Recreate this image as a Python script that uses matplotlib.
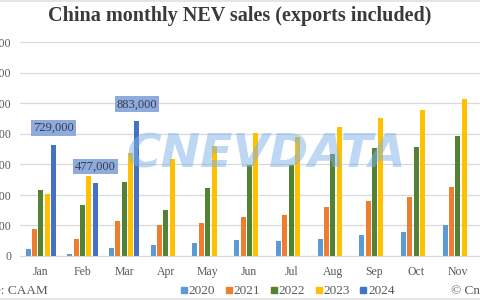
import numpy as np
import matplotlib.pyplot as plt
from matplotlib.lines import Line2D

months = ["Jan", "Feb", "Mar", "Apr", "May", "Jun", "Jul", "Aug", "Sep", "Oct", "Nov"]
years = ["2020", "2021", "2022", "2023", "2024"]

sales_2020 = [45000, 13000, 53000, 72000, 82000, 104000, 98000, 109000, 138000, 160000, 200000]
sales_2021 = [179000, 110000, 226000, 206000, 217000, 256000, 271000, 321000, 357000, 383000, 450000]
sales_2022 = [431000, 334000, 484000, 299000, 447000, 596000, 593000, 666000, 708000, 714000, 786000]
sales_2023 = [408000, 525000, 674000, 636000, 717000, 806000, 780000, 846000, 904000, 956000, 1026000]
sales_2024 = [729000, 477000, 883000]

colors = ["#5B9BD5", "#ED7D31", "#548235", "#FFC000", "#4472C4"]
series = [sales_2020, sales_2021, sales_2022, sales_2023, sales_2024]

plt.rcParams["font.family"] = ["Liberation Serif", "DejaVu Serif"]

fig = plt.figure(figsize=(4.8, 3.0), dpi=100)
ax = fig.add_axes([20 / 480, 1 - 256 / 300, 1 - 20 / 480, (256 - 42) / 300])

width = 0.12
pitch = 0.152
for i, (vals, c) in enumerate(zip(series, colors)):
    x = np.arange(len(vals)) + (i - 2) * pitch
    ax.bar(x, vals, width=width, color=c, zorder=2)

# callouts for 2024
x24 = np.arange(len(sales_2024)) + 2 * pitch
for xi, v in zip(x24, sales_2024):
    ax.annotate(f"{v:,}", (xi, v), xytext=(0, 12), textcoords="offset points",
                ha="center", va="center", fontsize=9, color="#333F50",
                bbox=dict(boxstyle="square,pad=0.15", fc="#8FAADC", ec="none"),
                zorder=4)

ax.set_xlim(-0.5, 10.53)
ax.set_ylim(0, 1400000)
ax.set_yticks(np.arange(0, 1400001, 200000))
ax.set_yticklabels([f"{v:,}" for v in range(0, 1400001, 200000)])
ax.set_xticks(np.arange(len(months)))
ax.set_xticklabels(months)
ax.tick_params(axis="both", length=0, labelsize=8.5, labelcolor="#595959")
ax.tick_params(axis="y", pad=6)
ax.tick_params(axis="x", pad=7)
ax.grid(axis="y", color="#D9D9D9", lw=0.9, zorder=0)
for s in ["top", "right", "left"]:
    ax.spines[s].set_visible(False)
ax.spines["bottom"].set_color("#D9D9D9")

fig.text(0.5, 0.948, "China monthly NEV sales (exports included)", ha="center",
         va="center", fontsize=14.5, fontweight="bold", color="#3A3A3A")

# watermark
fig.text(0.555, 0.485, "CNEVDATA", ha="center", va="center", fontsize=34,
         fontweight="bold", family="DejaVu Sans", color="#7FB2EA", alpha=0.5,
         style="italic", zorder=5)

handles = [Line2D([], [], marker="s", ls="none", color=c, markersize=5) for c in colors]
fig.legend(handles, years, loc="center", bbox_to_anchor=(0.596, 0.03), ncol=5,
           frameon=False, fontsize=9.5, handletextpad=-0.1, handlelength=0.9,
           columnspacing=0.6, labelcolor="#595959")

fig.text(-0.075, 0.03, "Source: CAAM", ha="left", va="center", fontsize=9.5, color="#595959")
fig.text(0.94, 0.03, "© CnEVData", ha="left", va="center", fontsize=9.5, color="#595959")

fig.add_artist(Line2D([0, 1], [0.997, 0.997], color="#E0E0E0", lw=1.2))
fig.add_artist(Line2D([0, 1], [0.004, 0.004], color="#E0E0E0", lw=1.2))

fig.savefig("out.png", dpi=100)
